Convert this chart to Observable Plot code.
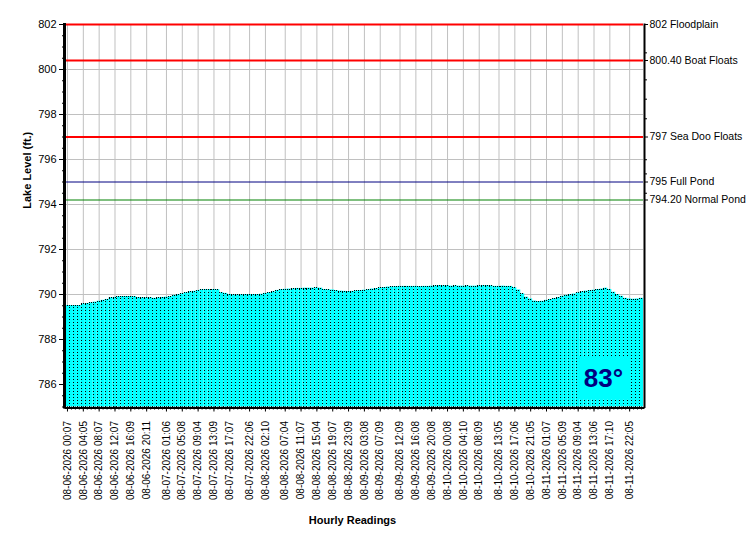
<!DOCTYPE html>
<html><head><meta charset="utf-8">
<script src="https://cdn.jsdelivr.net/npm/d3@7"></script>
<script src="https://cdn.jsdelivr.net/npm/@observablehq/plot@0.6"></script>
<style>
body{margin:0;background:#fff}
#chart svg{display:block}
</style>
</head><body><div id="chart"></div>
<script>
// Lake level readings (ft.), hourly from 08-06-2026 00:07
const levels = [
  789.51, 789.51, 789.51, 789.51, 789.58, 789.60, 789.63, 789.66, 789.70, 789.74, 789.78, 789.85,
  789.87, 789.90, 789.91, 789.91, 789.91, 789.90, 789.86, 789.85, 789.85, 789.85, 789.83, 789.85,
  789.87, 789.88, 789.90, 789.96, 789.99, 790.03, 790.08, 790.12, 790.14, 790.17, 790.21, 790.22,
  790.22, 790.22, 790.21, 790.08, 790.05, 790.00, 789.98, 789.98, 789.99, 790.00, 790.00, 790.00,
  790.00, 790.01, 790.05, 790.08, 790.12, 790.18, 790.22, 790.23, 790.24, 790.25, 790.27, 790.27,
  790.28, 790.28, 790.28, 790.29, 790.28, 790.22, 790.21, 790.20, 790.17, 790.15, 790.14, 790.13, 790.14,
  790.16, 790.17, 790.19, 790.21, 790.24, 790.26, 790.29, 790.31, 790.33, 790.34, 790.35, 790.36,
  790.36, 790.36, 790.36, 790.36, 790.35, 790.36, 790.36, 790.37, 790.38, 790.40, 790.39, 790.39,
  790.37, 790.38, 790.37, 790.37, 790.38, 790.37, 790.37, 790.38, 790.40, 790.40, 790.39, 790.36,
  790.36, 790.37, 790.36, 790.36, 790.30, 790.20, 790.03, 789.88, 789.80, 789.71, 789.69, 789.70,
  789.74, 789.78, 789.82, 789.86, 789.92, 789.96, 790.00, 790.02, 790.07, 790.12, 790.15, 790.17,
  790.19, 790.22, 790.24, 790.28, 790.22, 790.10, 790.00, 789.92, 789.83, 789.80, 789.79, 789.80, 789.83
];

// Labelled readings (index into levels) and their timestamps
const tickIndex = [0, 4, 8, 12, 16, 20, 25, 29, 33, 37, 41, 46, 50, 55, 59, 63, 67, 71, 75, 79,
  84, 88, 92, 96, 100, 104, 109, 113, 117, 121, 125, 129, 133, 137, 142];
const tickLabels = [
  "08-06-2026 00:07", "08-06-2026 04:05", "08-06-2026 08:07", "08-06-2026 12:07", "08-06-2026 16:09",
  "08-06-2026 20:11", "08-07-2026 01:06", "08-07-2026 05:08", "08-07-2026 09:04", "08-07-2026 13:09",
  "08-07-2026 17:07", "08-07-2026 22:06", "08-08-2026 02:10", "08-08-2026 07:04", "08-08-2026 11:07",
  "08-08-2026 15:04", "08-08-2026 19:07", "08-08-2026 23:09", "08-09-2026 03:08", "08-09-2026 07:09",
  "08-09-2026 12:09", "08-09-2026 16:08", "08-09-2026 20:08", "08-10-2026 00:08", "08-10-2026 04:10",
  "08-10-2026 08:09", "08-10-2026 13:05", "08-10-2026 17:06", "08-10-2026 21:05", "08-11-2026 01:07",
  "08-11-2026 05:09", "08-11-2026 09:04", "08-11-2026 13:06", "08-11-2026 17:10", "08-11-2026 22:05"
];

// Left axis ticks
const yTicks = [786, 788, 790, 792, 794, 796, 798, 800, 802];
const yMinorTicks = d3.range(785, 802.01, 0.5);

// Reference levels (right axis)
const floodValues = [802, 800.4, 797];
const fullPond = [795];
const normalPond = [794.2];
const refValues = [802, 800.4, 797, 795, 794.2];
const refLabels = ["802 Floodplain", "800.40 Boat Floats", "797 Sea Doo Floats", "795 Full Pond", "794.20 Normal Pond"];
const rightMinorTicks = [800.74, 799.54, 798.68, 797.81, 795.99, 795.36, 794.5];

const temperature = "83°";
const xTitle = "Hourly Readings";
const yTitle = "Lake Level (ft.)";
const yDomain = [785, 802];

const data = levels.map((v, i) => ({i, v}));
const n = levels.length;

const chart = Plot.plot({
  width: 750,
  height: 550,
  marginTop: 24,
  marginBottom: 143.5,
  marginLeft: 65,
  marginRight: 107,
  style: {fontFamily: "'Liberation Sans', Arial, sans-serif", fontSize: "10px", background: "#fff", color: "#000"},
  x: {type: "band", domain: d3.range(n), padding: 0, round: false},
  y: {domain: yDomain},
  marks: [
    Plot.ruleY(yTicks, {stroke: "#c0c0c0", strokeWidth: 1}),
    Plot.ruleX(tickIndex, {x: d => d, stroke: "#c0c0c0", strokeWidth: 1}),
    Plot.barY(data, {x: "i", y1: yDomain[0], y2: "v", fill: "#00ffff", inset: 0}),
    Plot.ruleX(data, {x: "i", y1: yDomain[0], y2: "v", dx: -1.98, stroke: "#000", strokeWidth: 1, strokeDasharray: "1,2", shapeRendering: "crispEdges"}),
    Plot.tickY(data, {x: "i", y: "v", stroke: "#000", strokeWidth: 1, strokeDasharray: "1,1", shapeRendering: "crispEdges"}),
    Plot.ruleY(floodValues, {stroke: "#ff0000", strokeWidth: 2}),
    Plot.ruleY(fullPond, {stroke: "#000080", strokeWidth: 1}),
    Plot.ruleY(normalPond, {stroke: "#008000", strokeWidth: 1}),
    // left axis
    Plot.axisY(yMinorTicks, {anchor: "left", tickSize: 3, tickFormat: () => "", label: null}),
    Plot.axisY(yTicks, {anchor: "left", tickSize: 6, tickPadding: 3, tickFormat: d => String(d), label: null, fontSize: 11}),
    // right axis
    Plot.axisY(rightMinorTicks, {anchor: "right", tickSize: 3, tickFormat: () => "", label: null}),
    Plot.axisY(refValues, {anchor: "right", tickSize: 4, tickPadding: 2, tickFormat: d => refLabels[refValues.indexOf(d)], label: null, fontSize: 10.5}),
    // bottom axis
    Plot.axisX(d3.range(n), {tickSize: 3, tickFormat: () => "", label: null}),
    Plot.axisX(tickIndex, {tickSize: 5, tickPadding: 9, tickRotate: -90, tickFormat: d => tickLabels[tickIndex.indexOf(d)], label: null, fontSize: 10}),
    // frame lines
    Plot.frame({anchor: "left", stroke: "#000", strokeWidth: 3, dx: -1}),
    Plot.frame({anchor: "bottom", stroke: "#000", strokeWidth: 2, dy: 1}),
    Plot.frame({anchor: "right", stroke: "#000", strokeWidth: 2, dx: 1}),
    // titles
    Plot.text([xTitle], {frameAnchor: "bottom", dx: -2, dy: 117, fontWeight: "bold", fontSize: 11, fill: "#000"}),
    Plot.text([yTitle], {frameAnchor: "left", dx: -38, dy: -7, rotate: -90, fontWeight: "bold", fontSize: 11, fill: "#000"}),
    // temperature badge
    Plot.text([temperature], {frameAnchor: "bottom-right", textAnchor: "middle", lineAnchor: "middle", dx: -40, dy: -28.8, fontWeight: "bold", fontSize: 26, fill: "#000080"})
  ]
});
document.getElementById("chart").append(chart);

// cyan backing box behind the temperature text
for (const t of chart.querySelectorAll("text")) {
  if (t.textContent === temperature) {
    const bb = t.getBBox();
    const cx = bb.x + bb.width / 2, cy = bb.y + bb.height / 2;
    const r = document.createElementNS("http://www.w3.org/2000/svg", "rect");
    r.setAttribute("x", cx - 25);
    r.setAttribute("y", cy - 21.5);
    r.setAttribute("width", 50);
    r.setAttribute("height", 43);
    r.setAttribute("fill", "#00ffff");
    const tr = t.getAttribute("transform");
    if (tr) r.setAttribute("transform", tr);
    t.parentNode.insertBefore(r, t);
  }
}
</script>
</body></html>
